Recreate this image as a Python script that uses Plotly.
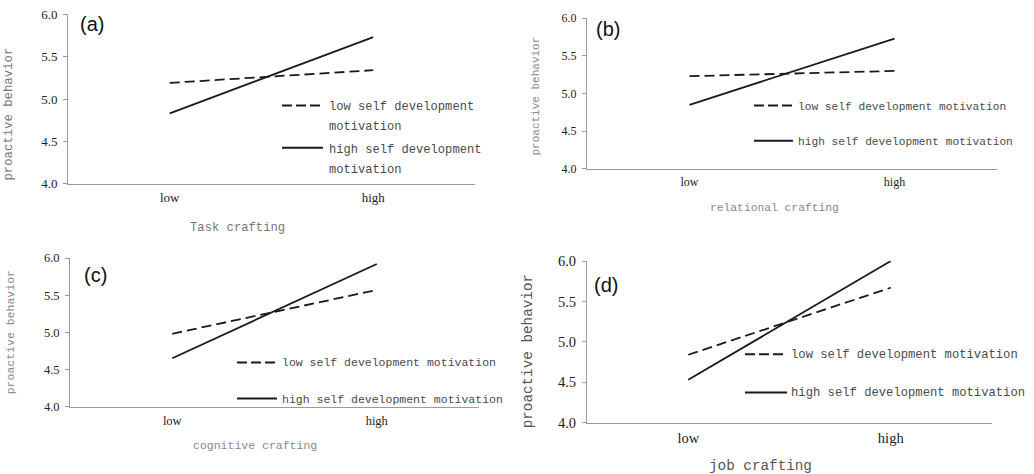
import plotly.graph_objects as go

# ---------------- data ----------------
categories = ["low", "high"]
panel_labels = ["(a)", "(b)", "(c)", "(d)"]
x_titles = ["Task crafting", "relational crafting", "cognitive crafting", "job crafting"]
y_title = "proactive behavior"
y_ticks = [4.0, 4.5, 5.0, 5.5, 6.0]

low_motivation_a = [5.19, 5.34]
high_motivation_a = [4.83, 5.73]
low_motivation_b = [5.23, 5.30]
high_motivation_b = [4.85, 5.73]
low_motivation_c = [4.98, 5.57]
high_motivation_c = [4.65, 5.92]
low_motivation_d = [4.84, 5.67]
high_motivation_d = [4.53, 6.00]

low_series = [low_motivation_a, low_motivation_b, low_motivation_c, low_motivation_d]
high_series = [high_motivation_a, high_motivation_b, high_motivation_c, high_motivation_d]

legend_low_lines = [["low self development", "motivation"],
                    ["low self development motivation"],
                    ["low self development motivation"],
                    ["low self development motivation"]]
legend_high_lines = [["high self development", "motivation"],
                     ["high self development motivation"],
                     ["high self development motivation"],
                     ["high self development motivation"]]

# ---------------- layout geometry (pixels) ----------------
W, H = 1034, 474
Y_OFF, Y_K = 8.8, 0.963  # empirical vertical correction of the capture


def px(x):
    return x / W


def py(y):
    yy = (y - Y_OFF) / Y_K
    return min(1.0, max(0.0, 1 - yy / H))


panels = [
    dict(l=68, r=475, t=15, b=184, tick=13, ytx=9, yty=115, yts=12.3, xtx=237, xty=228, xts=12.2,
         lab=(78, 25), key_x=(282, 323), key_low=106, key_high=148, txt_x=327,
         low_txt_y=[107, 127], high_txt_y=[150, 170], lts=12.1, tcol="#777"),
    dict(l=587, r=997, t=19, b=169, tick=12, ytx=536, yty=97, yts=11, xtx=774, xty=208, xts=11.3,
         lab=(594, 30), key_x=(754, 793), key_low=106, key_high=141, txt_x=796,
         low_txt_y=[107], high_txt_y=[142], lts=11.2, tcol="#888"),
    dict(l=70, r=479, t=258, b=406, tick=12.5, ytx=10, yty=332, yts=11.5, xtx=255, xty=445, xts=11.5,
         lab=(82, 275), key_x=(237, 277), key_low=362, key_high=398, txt_x=280,
         low_txt_y=[362], high_txt_y=[399], lts=11.5, tcol="#888"),
    dict(l=587, r=992, t=261, b=422, tick=14.5, ytx=528, yty=351, yts=14.3, xtx=760, xty=465, xts=14.3,
         lab=(592, 285), key_x=(745, 787), key_low=354, key_high=392, txt_x=789,
         low_txt_y=[355], high_txt_y=[393], lts=12.2, tcol="#555"),
]

SERIF = "Liberation Serif, Times New Roman, serif"
MONO = "Liberation Mono"
SANS = "Liberation Sans, Arial, sans-serif"
LINE_COL = "#1a1a1a"
AXIS_COL = "#9a9a9a"

fig = go.Figure()
annotations = []
shapes = []
layout_axes = {}

for i, p in enumerate(panels):
    xa = "x" if i == 0 else f"x{i + 1}"
    ya = "y" if i == 0 else f"y{i + 1}"
    xkey = "xaxis" if i == 0 else f"xaxis{i + 1}"
    ykey = "yaxis" if i == 0 else f"yaxis{i + 1}"

    fig.add_trace(go.Scatter(x=categories, y=low_series[i], mode="lines",
                             line=dict(color=LINE_COL, width=1.8, dash="10px,5px"),
                             xaxis=xa, yaxis=ya, showlegend=False,
                             name="low self development motivation"))
    fig.add_trace(go.Scatter(x=categories, y=high_series[i], mode="lines",
                             line=dict(color=LINE_COL, width=1.8),
                             xaxis=xa, yaxis=ya, showlegend=False,
                             name="high self development motivation"))

    layout_axes[xkey] = dict(domain=[px(p["l"]), px(p["r"])], anchor=ya, type="category",
                             categoryorder="array", categoryarray=categories,
                             range=[-0.5, 1.5], showline=True, linecolor=AXIS_COL, linewidth=1,
                             ticks="", showgrid=False, zeroline=False, ticklabelstandoff=2,
                             tickfont=dict(family=SERIF, size=p["tick"], color="#222"))
    layout_axes[ykey] = dict(domain=[py(p["b"]), py(p["t"])], anchor=xa, range=[4, 6],
                             tickvals=y_ticks, tickformat=".1f", showline=True,
                             linecolor=AXIS_COL, linewidth=1, ticks="outside", ticklen=4,
                             tickcolor=AXIS_COL, showgrid=False, zeroline=False,
                             ticklabelstandoff=3,
                             tickfont=dict(family=SERIF, size=p["tick"], color="#222"))

    # axis titles
    annotations.append(dict(text=y_title, x=px(p["ytx"]), y=py(p["yty"]), xref="paper", yref="paper",
                            textangle=-90, showarrow=False, xanchor="center", yanchor="middle",
                            font=dict(family=MONO, size=p["yts"], color=p["tcol"])))
    annotations.append(dict(text=x_titles[i], x=px(p["xtx"]), y=py(p["xty"]), xref="paper", yref="paper",
                            showarrow=False, xanchor="center", yanchor="middle",
                            font=dict(family=MONO, size=p["xts"], color=p["tcol"])))
    # panel label
    annotations.append(dict(text=panel_labels[i], x=px(p["lab"][0]), y=py(p["lab"][1]), xref="paper",
                            yref="paper", showarrow=False, xanchor="left", yanchor="middle",
                            font=dict(family=SANS, size=20, color="#111")))
    # legend keys
    shapes.append(dict(type="line", xref="paper", yref="paper",
                       x0=px(p["key_x"][0]), x1=px(p["key_x"][1]),
                       y0=py(p["key_low"]), y1=py(p["key_low"]),
                       line=dict(color=LINE_COL, width=2, dash="10px,4px")))
    shapes.append(dict(type="line", xref="paper", yref="paper",
                       x0=px(p["key_x"][0]), x1=px(p["key_x"][1]),
                       y0=py(p["key_high"]), y1=py(p["key_high"]),
                       line=dict(color=LINE_COL, width=2)))
    for txt, yy in zip(legend_low_lines[i], p["low_txt_y"]):
        annotations.append(dict(text=txt, x=px(p["txt_x"]), y=py(yy), xref="paper", yref="paper",
                                showarrow=False, xanchor="left", yanchor="middle",
                                font=dict(family=MONO, size=p["lts"], color="#4a4a4a")))
    for txt, yy in zip(legend_high_lines[i], p["high_txt_y"]):
        annotations.append(dict(text=txt, x=px(p["txt_x"]), y=py(yy), xref="paper", yref="paper",
                                showarrow=False, xanchor="left", yanchor="middle",
                                font=dict(family=MONO, size=p["lts"], color="#4a4a4a")))

fig.update_layout(width=W, height=H, margin=dict(l=0, r=0, t=0, b=0),
                  paper_bgcolor="white", plot_bgcolor="white",
                  annotations=annotations, shapes=shapes, **layout_axes)

post = (
    "var gd=document.getElementById('{plot_id}');"
    "gd.style.position='fixed';gd.style.top='0px';gd.style.left='0px';"
    "var h=document.documentElement;h.style.margin='0';h.style.padding='0';h.style.overflow='hidden';"
    "h.style.height='474px';"
    "document.body.style.margin='0';document.body.style.padding='0';"
    "document.body.style.overflow='hidden';document.body.style.height='474px';"
)

fig.write_html("out.html", config={"displayModeBar": False}, post_script=post)
